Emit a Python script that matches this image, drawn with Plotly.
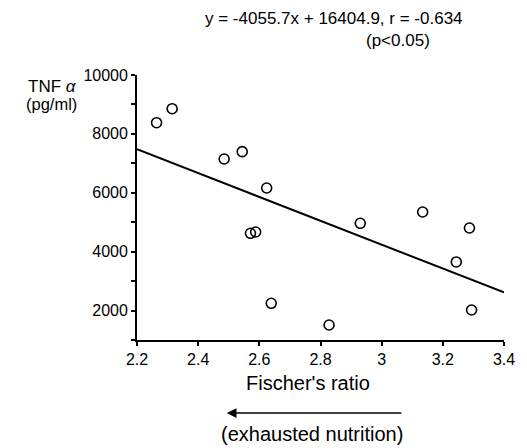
import plotly.graph_objects as go

# Data
fischer_ratio = [2.264, 2.315, 2.485, 2.544, 2.624, 2.571, 2.588, 2.639,
                 2.828, 2.930, 3.134, 3.287, 3.244, 3.294]
tnf_alpha = [8380, 8856, 7147, 7396, 6163, 4624, 4668, 2247,
             1510, 4964, 5348, 4804, 3650, 2019]

slope = -4055.7
intercept = 16404.9
line_x = [2.2, 3.4]
line_y = [slope * v + intercept for v in line_x]

x_ticks = [2.2, 2.4, 2.6, 2.8, 3.0, 3.2, 3.4]
x_tick_labels = ["2.2", "2.4", "2.6", "2.8", "3", "3.2", "3.4"]
y_ticks = [2000, 4000, 6000, 8000, 10000]
y_tick_labels = ["2000", "4000", "6000", "8000", "10000"]

FONT = "Liberation Sans, Arial, Helvetica, sans-serif"

fig = go.Figure()
fig.add_trace(go.Scatter(
    x=line_x, y=line_y, mode="lines",
    line=dict(color="black", width=2), showlegend=False, hoverinfo="skip"))
fig.add_trace(go.Scatter(
    x=fischer_ratio, y=tnf_alpha, mode="markers",
    marker=dict(symbol="circle-open", size=10, color="black",
                line=dict(color="black", width=1.6)),
    showlegend=False))

W, H = 527, 448
L, R, T, B = 137, 18, 75, 108
pw, ph = W - L - R, H - T - B

def px(xp):
    return (xp - L) / pw

def py(yp):
    return (H - B - yp) / ph

annotations = [
    dict(text="y = -4055.7x + 16404.9, r = -0.634", x=px(337), y=py(18),
         font=dict(size=17)),
    dict(text="(p<0.05)", x=px(402), y=py(40), font=dict(size=17)),
    dict(text="TNF <i>α</i>", x=px(51), y=py(86), font=dict(size=17)),
    dict(text="(pg/ml)", x=px(50), y=py(104), font=dict(size=16.5)),
    dict(text="Fischer's ratio", x=px(310), y=py(383), font=dict(size=20)),
    dict(text="(exhausted nutrition)", x=px(314), y=py(434), font=dict(size=20)),
]
for a in annotations:
    a.update(xref="paper", yref="paper", showarrow=False,
             xanchor="center", yanchor="middle")
    a["font"].update(color="black", family=FONT)

annotations.append(dict(
    x=px(228), y=py(413), xref="paper", yref="paper",
    ax=176, ay=0, axref="pixel", ayref="pixel",
    text="", showarrow=True, arrowhead=2, arrowsize=1.3, arrowwidth=1.5,
    arrowcolor="black"))

fig.update_layout(
    width=W, height=H,
    margin=dict(l=L, r=R, t=T, b=B, pad=0),
    paper_bgcolor="white", plot_bgcolor="white",
    font=dict(family=FONT, color="black", size=16),
    annotations=annotations,
    xaxis=dict(range=[2.2, 3.4], tickvals=x_ticks, ticktext=x_tick_labels,
               showgrid=False, zeroline=False, showline=True,
               linecolor="black", linewidth=1.8, ticks="outside",
               ticklen=4, tickwidth=1.5, tickcolor="black",
               tickfont=dict(size=16)),
    yaxis=dict(range=[1000, 10000], tickvals=y_ticks, ticktext=y_tick_labels,
               showgrid=False, zeroline=False, showline=True,
               linecolor="black", linewidth=1.8, ticks="outside",
               ticklen=4, tickwidth=1.5, tickcolor="black",
               tickfont=dict(size=16),
               minor=dict(tickvals=[1000, 3000, 5000, 7000, 9000],
                          ticks="outside", ticklen=4, tickwidth=1.5,
                          tickcolor="black", showgrid=False)),
)

fig.write_html(
    "out.html",
    config={"displayModeBar": False},
    post_script="document.body.style.margin='0';document.body.style.overflow='hidden';",
)
